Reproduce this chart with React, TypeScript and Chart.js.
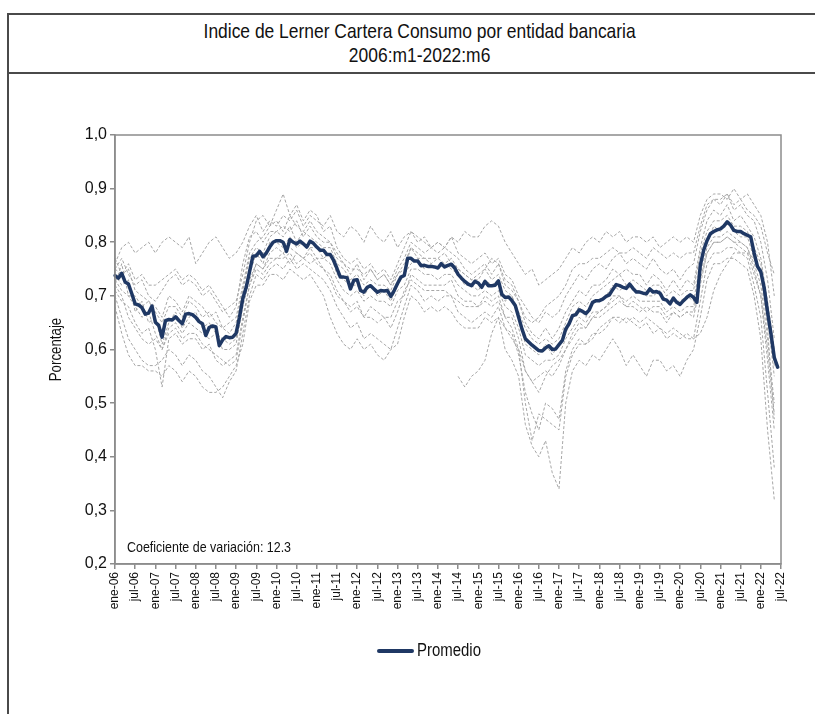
import React, { useEffect, useRef } from "react";
import { Chart, registerables } from "chart.js";

Chart.register(...registerables);

const TITLE_1 = "Indice de Lerner Cartera Consumo por entidad bancaria";
const TITLE_2 = "2006:m1-2022:m6";
const Y_TITLE = "Porcentaje";
const NOTE = "Coeficiente de variación: 12.3";
const LEGEND_LABEL = "Promedio";

const MONTH_NAMES = ["ene", "feb", "mar", "abr", "may", "jun", "jul", "ago", "sep", "oct", "nov", "dic"];
const FIRST_YEAR = 2006;
const LAST_YEAR = 2022;
const LAST_MONTH = 7; // axis runs to jul-22

const Y_MIN = 0.2;
const Y_MAX = 1.0;
const Y_STEP = 0.1;

// Promedio, monthly 2006m1 - 2022m6
const PROMEDIO = [
  0.738, 0.733, 0.742, 0.726, 0.722, 0.704, 0.685, 0.683, 0.678, 0.666, 0.668, 0.681,
  0.651, 0.645, 0.623, 0.654, 0.656, 0.655, 0.661, 0.654, 0.648, 0.666, 0.667, 0.665,
  0.660, 0.652, 0.648, 0.626, 0.641, 0.644, 0.642, 0.607, 0.618, 0.624, 0.622, 0.623,
  0.630, 0.660, 0.695, 0.716, 0.745, 0.774, 0.775, 0.783, 0.773, 0.780, 0.791, 0.800,
  0.803, 0.803, 0.800, 0.783, 0.805, 0.800, 0.797, 0.802, 0.797, 0.791, 0.802, 0.798,
  0.791, 0.785, 0.785, 0.777, 0.777, 0.766, 0.751, 0.735, 0.735, 0.734, 0.713, 0.729,
  0.730, 0.710, 0.707, 0.716, 0.719, 0.713, 0.707, 0.710, 0.709, 0.710, 0.699, 0.710,
  0.723, 0.735, 0.738, 0.770, 0.770, 0.765, 0.765, 0.756, 0.757, 0.755, 0.755, 0.754,
  0.752, 0.760, 0.754, 0.757, 0.759, 0.752, 0.740, 0.733, 0.727, 0.722, 0.719, 0.727,
  0.724, 0.716, 0.727, 0.719, 0.719, 0.720, 0.728, 0.703, 0.697, 0.698, 0.691, 0.682,
  0.660, 0.638, 0.620, 0.614, 0.608, 0.603, 0.598, 0.597, 0.603, 0.607, 0.600, 0.601,
  0.609, 0.617, 0.638, 0.648, 0.663, 0.665, 0.674, 0.671, 0.667, 0.674, 0.688, 0.691,
  0.691, 0.694, 0.699, 0.702, 0.712, 0.721, 0.719, 0.716, 0.714, 0.722, 0.714, 0.707,
  0.707, 0.705, 0.704, 0.713, 0.707, 0.708, 0.705, 0.694, 0.692, 0.685, 0.696, 0.688,
  0.684, 0.691, 0.697, 0.702, 0.697, 0.688, 0.757, 0.785, 0.803, 0.816, 0.820, 0.823,
  0.825, 0.830, 0.838, 0.832, 0.822, 0.820, 0.820, 0.816, 0.813, 0.810, 0.780, 0.755,
  0.745, 0.715, 0.670, 0.630, 0.585, 0.567,
];

// Individual banks, read every second month (ene, mar, may, jul, sep, nov), 2006 - 2022m5
const BANK_A = [
  0.76, 0.79, 0.80, 0.78, 0.79, 0.80, 0.78, 0.80, 0.81, 0.80, 0.79, 0.81,
  0.76, 0.78, 0.80, 0.81, 0.79, 0.77, 0.78, 0.80, 0.83, 0.85, 0.82, 0.84,
  0.83, 0.85, 0.84, 0.86, 0.83, 0.85, 0.84, 0.83, 0.85, 0.82, 0.81, 0.83,
  0.82, 0.80, 0.83, 0.81, 0.80, 0.82, 0.79, 0.81, 0.82, 0.80, 0.81, 0.79,
  0.80, 0.79, 0.81, 0.80, 0.82, 0.81, 0.81, 0.83, 0.84, 0.83, 0.80, 0.78,
  0.76, 0.74, 0.75, 0.72, 0.73, 0.74, 0.75, 0.77, 0.79, 0.78, 0.80, 0.81,
  0.80, 0.82, 0.81, 0.82, 0.80, 0.81, 0.81, 0.80, 0.81, 0.79, 0.80, 0.81,
  0.80, 0.81, 0.80, 0.85, 0.88, 0.89, 0.89, 0.88, 0.90, 0.88, 0.89, 0.87,
  0.85, 0.80, 0.70,
];
const BANK_B = [
  0.75, 0.77, 0.74, 0.72, 0.73, 0.70, 0.69, 0.71, 0.73, 0.74, 0.72, 0.73,
  0.72, 0.70, 0.71, 0.69, 0.67, 0.68, 0.69, 0.74, 0.80, 0.84, 0.85, 0.83,
  0.86, 0.89, 0.85, 0.87, 0.84, 0.86, 0.85, 0.82, 0.83, 0.79, 0.77, 0.76,
  0.77, 0.75, 0.76, 0.74, 0.75, 0.73, 0.76, 0.79, 0.82, 0.81, 0.80, 0.79,
  0.80, 0.79, 0.81, 0.78, 0.77, 0.76, 0.77, 0.78, 0.76, 0.77, 0.74, 0.73,
  0.70, 0.68, 0.66, 0.65, 0.67, 0.66, 0.67, 0.70, 0.72, 0.74, 0.73, 0.75,
  0.76, 0.75, 0.77, 0.78, 0.76, 0.77, 0.76, 0.75, 0.77, 0.75, 0.74, 0.75,
  0.73, 0.75, 0.76, 0.82, 0.86, 0.88, 0.87, 0.89, 0.86, 0.87, 0.85, 0.84,
  0.80, 0.73, 0.62,
];
const BANK_C = [
  0.77, 0.74, 0.75, 0.71, 0.70, 0.69, 0.68, 0.66, 0.70, 0.69, 0.67, 0.70,
  0.69, 0.68, 0.66, 0.67, 0.64, 0.65, 0.66, 0.72, 0.78, 0.80, 0.81, 0.83,
  0.84, 0.82, 0.85, 0.83, 0.82, 0.84, 0.82, 0.81, 0.80, 0.78, 0.76, 0.74,
  0.76, 0.73, 0.75, 0.73, 0.74, 0.72, 0.75, 0.77, 0.80, 0.79, 0.78, 0.79,
  0.78, 0.79, 0.78, 0.77, 0.75, 0.74, 0.75, 0.76, 0.74, 0.76, 0.72, 0.71,
  0.69, 0.65, 0.63, 0.62, 0.64, 0.62, 0.64, 0.67, 0.69, 0.71, 0.70, 0.72,
  0.72, 0.73, 0.75, 0.74, 0.75, 0.74, 0.74, 0.72, 0.74, 0.73, 0.71, 0.73,
  0.71, 0.73, 0.72, 0.79, 0.84, 0.86, 0.85, 0.87, 0.84, 0.85, 0.83, 0.81,
  0.77, 0.69, 0.60,
];
const BANK_D = [
  0.72, 0.76, 0.70, 0.70, 0.68, 0.69, 0.67, 0.65, 0.68, 0.68, 0.66, 0.69,
  0.68, 0.66, 0.67, 0.65, 0.64, 0.63, 0.65, 0.71, 0.77, 0.79, 0.78, 0.81,
  0.82, 0.81, 0.83, 0.80, 0.82, 0.81, 0.80, 0.79, 0.79, 0.76, 0.75, 0.73,
  0.74, 0.72, 0.73, 0.72, 0.72, 0.71, 0.74, 0.75, 0.79, 0.77, 0.77, 0.76,
  0.77, 0.76, 0.77, 0.75, 0.74, 0.73, 0.73, 0.75, 0.73, 0.74, 0.71, 0.70,
  0.67, 0.64, 0.62, 0.61, 0.62, 0.61, 0.62, 0.65, 0.68, 0.69, 0.68, 0.70,
  0.71, 0.72, 0.73, 0.74, 0.72, 0.73, 0.72, 0.71, 0.72, 0.72, 0.70, 0.71,
  0.70, 0.71, 0.71, 0.78, 0.82, 0.84, 0.84, 0.85, 0.83, 0.83, 0.82, 0.79,
  0.76, 0.68, 0.57,
];
const BANK_E = [
  0.74, 0.72, 0.73, 0.67, 0.69, 0.65, 0.66, 0.61, 0.65, 0.67, 0.64, 0.66,
  0.67, 0.64, 0.65, 0.63, 0.62, 0.61, 0.62, 0.70, 0.74, 0.78, 0.76, 0.80,
  0.80, 0.79, 0.81, 0.79, 0.80, 0.79, 0.79, 0.77, 0.78, 0.74, 0.73, 0.72,
  0.72, 0.70, 0.72, 0.70, 0.71, 0.69, 0.72, 0.74, 0.76, 0.77, 0.75, 0.76,
  0.75, 0.76, 0.75, 0.74, 0.72, 0.72, 0.71, 0.73, 0.72, 0.73, 0.69, 0.70,
  0.66, 0.61, 0.60, 0.59, 0.61, 0.59, 0.61, 0.63, 0.66, 0.68, 0.66, 0.69,
  0.69, 0.70, 0.72, 0.71, 0.72, 0.71, 0.71, 0.70, 0.70, 0.71, 0.69, 0.69,
  0.69, 0.70, 0.69, 0.76, 0.80, 0.83, 0.82, 0.84, 0.82, 0.81, 0.81, 0.77,
  0.74, 0.66, 0.55,
];
const BANK_F = [
  0.73, 0.71, 0.70, 0.68, 0.66, 0.67, 0.63, 0.60, 0.64, 0.65, 0.63, 0.65,
  0.64, 0.63, 0.62, 0.63, 0.60, 0.60, 0.61, 0.68, 0.73, 0.76, 0.75, 0.78,
  0.79, 0.78, 0.79, 0.78, 0.77, 0.79, 0.77, 0.77, 0.76, 0.73, 0.71, 0.70,
  0.71, 0.69, 0.70, 0.69, 0.69, 0.68, 0.71, 0.72, 0.75, 0.75, 0.74, 0.74,
  0.73, 0.74, 0.74, 0.72, 0.71, 0.70, 0.70, 0.71, 0.70, 0.71, 0.68, 0.67,
  0.64, 0.59, 0.58, 0.57, 0.58, 0.58, 0.59, 0.62, 0.64, 0.66, 0.65, 0.67,
  0.67, 0.68, 0.70, 0.70, 0.69, 0.70, 0.69, 0.69, 0.69, 0.69, 0.67, 0.68,
  0.67, 0.68, 0.68, 0.74, 0.79, 0.81, 0.81, 0.82, 0.81, 0.80, 0.79, 0.76,
  0.72, 0.62, 0.50,
];
const BANK_G = [
  0.71, 0.69, 0.68, 0.65, 0.63, 0.64, 0.60, 0.53, 0.62, 0.63, 0.61, 0.62,
  0.62, 0.60, 0.61, 0.58, 0.57, 0.58, 0.59, 0.66, 0.72, 0.75, 0.74, 0.76,
  0.77, 0.77, 0.78, 0.76, 0.77, 0.78, 0.76, 0.75, 0.74, 0.71, 0.69, 0.68,
  0.69, 0.66, 0.68, 0.67, 0.66, 0.66, 0.69, 0.70, 0.74, 0.73, 0.72, 0.72,
  0.72, 0.72, 0.73, 0.70, 0.69, 0.69, 0.68, 0.70, 0.69, 0.70, 0.66, 0.66,
  0.62, 0.56, 0.54, 0.55, 0.56, 0.55, 0.57, 0.60, 0.62, 0.64, 0.64, 0.66,
  0.66, 0.67, 0.68, 0.69, 0.68, 0.68, 0.67, 0.68, 0.67, 0.67, 0.65, 0.67,
  0.66, 0.67, 0.66, 0.72, 0.78, 0.80, 0.80, 0.81, 0.80, 0.79, 0.78, 0.74,
  0.70, 0.58, 0.45,
];
const BANK_H = [
  0.70, 0.66, 0.62, 0.60, 0.58, 0.57, 0.57, 0.58, 0.60, 0.59, 0.57, 0.59,
  0.58, 0.56, 0.55, 0.53, 0.51, 0.54, 0.56, 0.63, 0.70, 0.74, 0.73, 0.75,
  0.76, 0.75, 0.77, 0.75, 0.76, 0.75, 0.74, 0.73, 0.71, 0.68, 0.66, 0.64,
  0.65, 0.62, 0.63, 0.62, 0.61, 0.60, 0.64, 0.68, 0.72, 0.71, 0.69, 0.70,
  0.69, 0.70, 0.70, 0.67, 0.66, 0.65, 0.66, 0.67, 0.66, 0.68, 0.64, 0.63,
  0.59, 0.52, 0.48, 0.45, 0.50, 0.49, 0.47, 0.56, 0.60, 0.62, 0.61, 0.63,
  0.63, 0.64, 0.66, 0.65, 0.66, 0.65, 0.64, 0.65, 0.63, 0.64, 0.62, 0.63,
  0.62, 0.63, 0.62, 0.69, 0.76, 0.78, 0.78, 0.79, 0.79, 0.78, 0.77, 0.72,
  0.66, 0.52, 0.38,
];
const BANK_I = [
  0.68, 0.63, 0.59, 0.57, 0.57, 0.56, 0.56, 0.55, 0.57, 0.56, 0.54, 0.56,
  0.55, 0.53, 0.52, 0.52, 0.53, 0.55, 0.57, 0.61, 0.69, 0.72, 0.72, 0.74,
  0.74, 0.73, 0.75, 0.74, 0.73, 0.74, 0.72, 0.70, 0.66, 0.63, 0.61, 0.60,
  0.62, 0.60, 0.61, 0.59, 0.58, 0.60, 0.61, 0.66, 0.70, 0.69, 0.67, 0.68,
  0.67, 0.68, 0.67, 0.65, 0.64, 0.64, 0.64, 0.66, 0.65, 0.66, 0.60, 0.58,
  0.55, 0.46, 0.42, 0.40, 0.43, 0.37, 0.34, 0.50, 0.56, 0.58, 0.57, 0.59,
  0.58, 0.60, 0.62, 0.60, 0.57, 0.59, 0.57, 0.55, 0.58, 0.58, 0.56, 0.57,
  0.55, 0.58, 0.60, 0.66, 0.73, 0.76, 0.76, 0.77, 0.77, 0.76, 0.75, 0.70,
  0.62, 0.45, 0.32,
];
const BANK_J = [
  null, null, null, null, null, null, null, null, null, null, null, null,
  null, null, null, null, null, null, null, null, null, null, null, null,
  null, null, null, null, null, null, null, null, null, null, null, null,
  null, null, null, null, null, null, null, null, null, null, null, null,
  null, null, null, 0.55, 0.53, 0.55, 0.56, 0.58, 0.63, 0.66, 0.64, 0.62,
  0.60, 0.56, 0.54, 0.52, 0.55, 0.57, 0.58, 0.60, 0.63, 0.65, 0.64, 0.66,
  0.67, 0.68, 0.69, 0.70, 0.68, 0.69, 0.68, 0.67, 0.68, 0.68, 0.66, 0.67,
  0.66, 0.67, 0.67, 0.73, 0.78, 0.80, 0.80, 0.81, 0.80, 0.80, 0.79, 0.75,
  0.70, 0.60, 0.48,
];
const BANK_K = [
  0.72, 0.70, 0.66, 0.64, 0.62, 0.61, 0.62, 0.60, 0.63, 0.64, 0.62, 0.63,
  0.63, 0.61, 0.60, 0.59, 0.58, 0.57, 0.58, 0.65, 0.72, 0.76, 0.75, 0.77,
  0.77, 0.78, 0.76, 0.78, 0.77, 0.76, 0.77, 0.75, 0.73, 0.70, 0.69, 0.67,
  0.68, 0.66, 0.66, 0.65, 0.66, 0.64, 0.67, 0.71, 0.73, 0.72, 0.71, 0.71,
  0.71, 0.71, 0.70, 0.69, 0.68, 0.68, 0.68, 0.69, 0.68, 0.69, 0.66, 0.64,
  0.60, 0.50, 0.43, 0.48, 0.47, 0.46, 0.45, 0.55, 0.59, 0.61, 0.61, 0.62,
  0.64, 0.65, 0.66, 0.66, 0.65, 0.66, 0.65, 0.66, 0.65, 0.64, 0.63, 0.64,
  0.63, 0.62, 0.62, 0.63, 0.66, 0.71, 0.74, 0.76, 0.78, 0.78, 0.78, 0.77,
  0.74, 0.64, 0.47,
];
const BANK_L = [
  0.75, 0.74, 0.76, 0.73, 0.74, 0.72, 0.72, 0.73, 0.74, 0.75, 0.73, 0.74,
  0.73, 0.71, 0.72, 0.70, 0.68, 0.66, 0.68, 0.76, 0.81, 0.82, 0.80, 0.82,
  0.82, 0.83, 0.82, 0.84, 0.81, 0.83, 0.81, 0.80, 0.80, 0.77, 0.76, 0.75,
  0.75, 0.74, 0.75, 0.73, 0.74, 0.72, 0.74, 0.76, 0.79, 0.78, 0.77, 0.77,
  0.77, 0.78, 0.76, 0.75, 0.74, 0.73, 0.74, 0.75, 0.77, 0.76, 0.73, 0.72,
  0.69, 0.66, 0.65, 0.66, 0.68, 0.69, 0.70, 0.72, 0.75, 0.76, 0.76, 0.77,
  0.77, 0.78, 0.79, 0.78, 0.78, 0.79, 0.78, 0.77, 0.79, 0.78, 0.77, 0.78,
  0.77, 0.78, 0.78, 0.83, 0.87, 0.88, 0.88, 0.89, 0.87, 0.88, 0.86, 0.85,
  0.83, 0.78, 0.74,
];

const BANKS = [
  BANK_A, BANK_B, BANK_C, BANK_D, BANK_E, BANK_F,
  BANK_G, BANK_H, BANK_I, BANK_J, BANK_K, BANK_L,
];

const NAVY = "#1f3864";
const GRAY = "#a6a6a6";
const AXIS = "#8c8c8c";
const TEXT = "#111111";
const REGULAR = "'Liberation Sans', Arial, sans-serif";
const CONDENSE = 0.83;

function buildLabels(): string[] {
  const out: string[] = [];
  for (let y = FIRST_YEAR; y <= LAST_YEAR; y++) {
    for (let m = 0; m < 12; m++) {
      if (y === LAST_YEAR && m >= LAST_MONTH) break;
      out.push(`${MONTH_NAMES[m]}-${String(y).slice(2)}`);
    }
  }
  return out;
}

function bimonthlyToMonthly(b: (number | null)[], n: number): (number | null)[] {
  const out: (number | null)[] = new Array(n).fill(null);
  b.forEach((v, k) => {
    if (2 * k < n) out[2 * k] = v;
  });
  return out;
}

function narrowText(ctx: any, text: string, x: number, y: number, size: number, align: string, rot = 0) {
  ctx.save();
  ctx.translate(x, y);
  if (rot) ctx.rotate(rot);
  ctx.scale(CONDENSE, 1);
  ctx.font = `${size}px ${REGULAR}`;
  ctx.fillStyle = TEXT;
  ctx.textAlign = align;
  ctx.textBaseline = "middle";
  ctx.fillText(text, 0, 0);
  ctx.restore();
}

const decorPlugin = {
  id: "decor",
  afterDraw(chart: any) {
    const { ctx, chartArea: a } = chart;
    ctx.save();
    ctx.strokeStyle = AXIS;
    ctx.lineWidth = 1.5;
    ctx.strokeRect(a.left, a.top, a.right - a.left, a.bottom - a.top);
    ctx.restore();
    // note inside the plot
    narrowText(ctx, NOTE, a.left + 12, a.bottom - 16, 15, "left");
    // y-axis title
    narrowText(ctx, Y_TITLE, a.left - 58, (a.top + a.bottom) / 2, 16, "center", -Math.PI / 2);
    // legend
    const lx = 377;
    const ly = 651;
    ctx.save();
    ctx.strokeStyle = NAVY;
    ctx.lineWidth = 4;
    ctx.lineCap = "round";
    ctx.beginPath();
    ctx.moveTo(lx + 2, ly);
    ctx.lineTo(lx + 35, ly);
    ctx.stroke();
    ctx.restore();
    narrowText(ctx, LEGEND_LABEL, lx + 40, ly, 18, "left");
  },
};

export default function App() {
  const ref = useRef<HTMLCanvasElement | null>(null);

  useEffect(() => {
    if (!ref.current) return;
    const labels = buildLabels();
    const n = labels.length;
    const datasets: any[] = [
      {
        label: LEGEND_LABEL,
        data: PROMEDIO,
        borderColor: NAVY,
        backgroundColor: NAVY,
        borderWidth: 3.5,
        pointRadius: 0,
        tension: 0,
        borderJoinStyle: "round",
        borderCapStyle: "round",
      },
      ...BANKS.map((b, k) => ({
        label: `Banco ${k + 1}`,
        data: bimonthlyToMonthly(b, n),
        borderColor: GRAY,
        borderWidth: 1,
        borderDash: [3, 2],
        pointRadius: 0,
        spanGaps: true,
        tension: 0,
      })),
    ];

    const chart = new Chart(ref.current, {
      type: "line",
      data: { labels, datasets },
      plugins: [decorPlugin],
      options: {
        responsive: false,
        animation: false,
        events: [],
        layout: { padding: { left: 79, right: 34, top: 135, bottom: 76 } },
        plugins: {
          tooltip: { enabled: false },
          legend: { display: false },
        },
        scales: {
          x: {
            type: "category",
            offset: false,
            afterFit: (s: any) => {
              s.height = 74;
            },
            grid: {
              display: true,
              drawOnChartArea: false,
              drawTicks: true,
              tickLength: 5,
              color: AXIS,
              lineWidth: 1.5,
              offset: false,
            },
            border: { display: true, color: AXIS, width: 1.5 },
            ticks: {
              autoSkip: false,
              maxRotation: 90,
              minRotation: 90,
              padding: 3,
              color: TEXT,
              font: { family: REGULAR, size: 12 },
              callback: (_v: any, i: number) => (i % 6 === 0 ? labels[i] : null),
            },
          },
          y: {
            min: Y_MIN,
            max: Y_MAX,
            afterFit: (s: any) => {
              s.width = 36;
            },
            grid: {
              display: true,
              drawOnChartArea: false,
              drawTicks: true,
              tickLength: 5,
              color: AXIS,
              lineWidth: 1.5,
            },
            border: { display: true, color: AXIS, width: 1.5 },
            ticks: {
              stepSize: Y_STEP,
              padding: 3,
              color: TEXT,
              font: { family: REGULAR, size: 16 },
              callback: (v: any) => Number(v).toFixed(1).replace(".", ","),
            },
          },
        },
      },
    } as any);
    return () => chart.destroy();
  }, []);

  return (
    <div
      style={{
        position: "fixed",
        left: 0,
        top: 0,
        width: 815,
        height: 714,
        overflow: "hidden",
        background: "#fff",
      }}
    >
      <div
        style={{
          position: "absolute",
          left: 7,
          top: 13,
          width: 823,
          height: 720,
          borderLeft: "2px solid #4a4a4a",
          borderTop: "2px solid #4a4a4a",
          boxSizing: "border-box",
        }}
      />
      <div
        style={{
          position: "absolute",
          left: 7,
          top: 72,
          width: 823,
          height: 0,
          borderTop: "2px solid #4a4a4a",
        }}
      />
      <div
        style={{
          position: "absolute",
          left: 7,
          top: 19,
          width: 823,
          textAlign: "center",
          fontFamily: REGULAR,
          fontSize: 21,
          lineHeight: "24px",
          color: TEXT,
          transform: `scaleX(${CONDENSE})`,
          transformOrigin: "418px 0",
        }}
      >
        <div>{TITLE_1}</div>
        <div>{TITLE_2}</div>
      </div>
      <canvas
        ref={ref}
        width={815}
        height={714}
        style={{ position: "absolute", left: 0, top: 0, width: 815, height: 714 }}
      />
    </div>
  );
}
